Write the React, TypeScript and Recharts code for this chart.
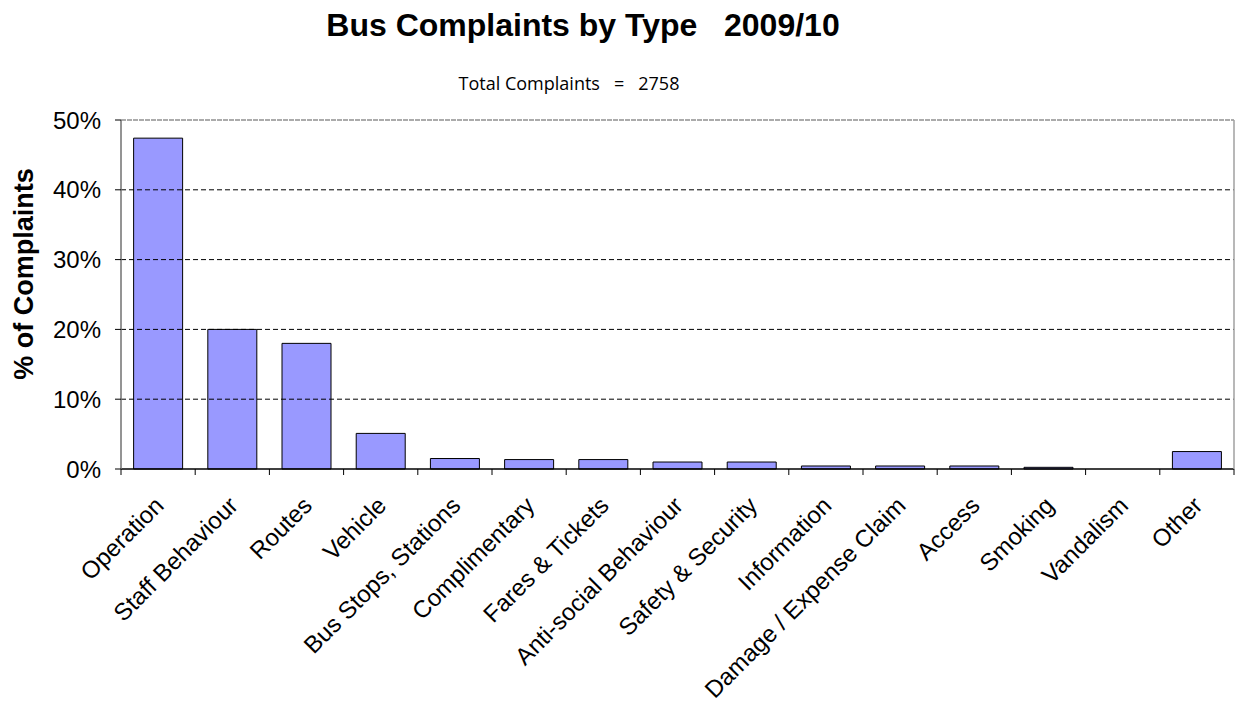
import React from "react";
import { BarChart, Bar, XAxis, YAxis, ReferenceLine } from "recharts";

const categories = [
  "Operation",
  "Staff Behaviour",
  "Routes",
  "Vehicle",
  "Bus Stops, Stations",
  "Complimentary",
  "Fares & Tickets",
  "Anti-social Behaviour",
  "Safety & Security",
  "Information",
  "Damage / Expense Claim",
  "Access",
  "Smoking",
  "Vandalism",
  "Other",
];
const percentages = [47.4, 20.0, 18.0, 5.1, 1.5, 1.35, 1.35, 1.0, 1.0, 0.43, 0.43, 0.43, 0.24, 0, 2.5];
const yTicks = [0, 10, 20, 30, 40, 50];
const gridValues = [10, 20, 30, 40];
const titleText = "Bus Complaints by Type   2009/10";
const subtitleText = "Total Complaints   =   2758";
const yLabelText = "% of Complaints";

const data = categories.map((name, i) => ({ name, value: percentages[i] }));

const W = 1235;
const H = 706;
const MARGIN = { top: 120, right: 0, left: 0, bottom: 6 };
const Y_AXIS_W = 121;
const RIGHT_AXIS_W = 1;
const X_AXIS_H = 231;
const AXIS_Y = H - MARGIN.bottom - X_AXIS_H;
const PLOT_W = W - MARGIN.left - MARGIN.right - Y_AXIS_W - RIGHT_AXIS_W;
const BAND = PLOT_W / categories.length;
const FONT = "'Liberation Sans', Arial, sans-serif";

const XTick = (props: any) => {
  const { x, payload, index } = props;
  const left = x - BAND / 2;
  const right = x + BAND / 2;
  const tx = x + 7;
  const ty = AXIS_Y + 38;
  return (
    <g>
      <line x1={left} y1={AXIS_Y} x2={left} y2={AXIS_Y + 6} stroke="#000" strokeWidth={1} />
      {index === categories.length - 1 && (
        <line x1={right} y1={AXIS_Y} x2={right} y2={AXIS_Y + 6} stroke="#000" strokeWidth={1} />
      )}
      <text
        x={tx}
        y={ty}
        textAnchor="end"
        fontSize={24}
        fontFamily={FONT}
        fill="#000"
        transform={`rotate(-45 ${tx} ${ty})`}
      >
        {payload.value}
      </text>
    </g>
  );
};

export default function App() {
  return (
    <div style={{ position: "absolute", left: 0, top: 0, width: W, height: H, background: "#fff" }}>
      <div
        style={{
          position: "absolute",
          left: 0,
          width: 1166,
          top: 7,
          textAlign: "center",
          fontFamily: FONT,
          fontWeight: "bold",
          fontSize: 32,
          whiteSpace: "pre",
          color: "#000",
        }}
      >
        {titleText}
      </div>
      <div
        style={{
          position: "absolute",
          left: 0,
          width: 1138,
          top: 71,
          textAlign: "center",
          fontFamily: "'Open Sans', sans-serif",
          fontSize: 18,
          whiteSpace: "pre",
          color: "#000",
        }}
      >
        {subtitleText}
      </div>
      <div
        style={{
          position: "absolute",
          left: 24,
          top: 274,
          transform: "translate(-50%, -50%) rotate(-90deg)",
          fontFamily: FONT,
          fontWeight: "bold",
          fontSize: 27,
          whiteSpace: "nowrap",
          color: "#000",
        }}
      >
        {yLabelText}
      </div>
      <BarChart width={W} height={H} data={data} margin={MARGIN} barCategoryGap="17%">
        <XAxis
          dataKey="name"
          interval={0}
          height={X_AXIS_H}
          tickLine={false}
          axisLine={{ stroke: "#000", strokeWidth: 1.5 }}
          tick={<XTick />}
        />
        <YAxis
          yAxisId="left"
          width={Y_AXIS_W}
          domain={[0, 50]}
          ticks={yTicks}
          tickFormatter={(v: number) => `${v}%`}
          tickSize={6}
          tickMargin={14}
          axisLine={{ stroke: "#707070", strokeWidth: 1.5 }}
          tickLine={{ stroke: "#000" }}
          tick={{ fontSize: 24, fontFamily: FONT, fill: "#000" }}
        />
        <YAxis
          yAxisId="right"
          orientation="right"
          width={RIGHT_AXIS_W}
          domain={[0, 50]}
          tick={false}
          tickLine={false}
          axisLine={{ stroke: "#a0a0a0", strokeWidth: 1.5 }}
        />
        {gridValues.map((v) => (
          <ReferenceLine key={v} yAxisId="left" y={v} stroke="#000" strokeDasharray="5 3" strokeWidth={1} />
        ))}
        <ReferenceLine yAxisId="left" y={50} stroke="#909090" strokeDasharray="5 1" strokeWidth={1.5} />
        <Bar yAxisId="left" dataKey="value" fill="#9999FF" stroke="#000" strokeWidth={1} isAnimationActive={false} />
      </BarChart>
    </div>
  );
}
